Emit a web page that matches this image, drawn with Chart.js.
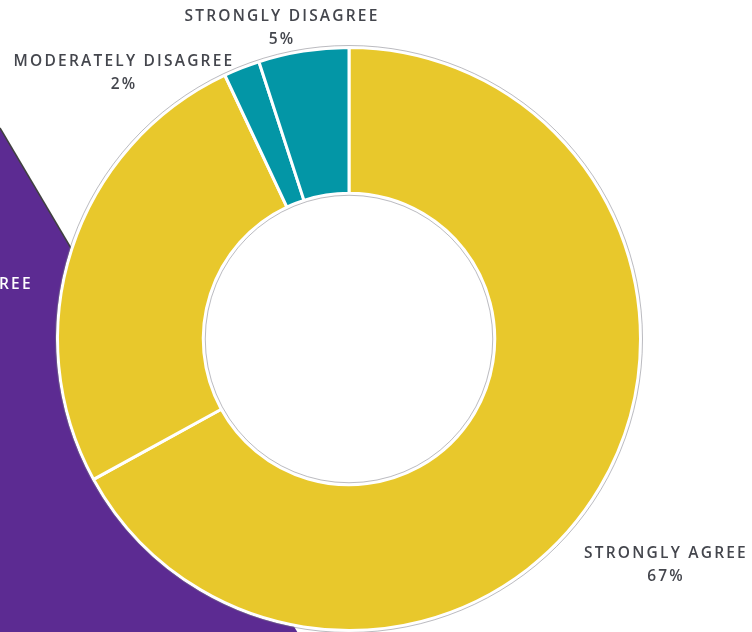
<!DOCTYPE html>
<html>
<head>
<meta charset="utf-8">
<script src="https://cdn.jsdelivr.net/npm/chart.js@4.4.0/dist/chart.umd.min.js"></script>
<style>
  html, body { margin: 0; padding: 0; background: #fff; overflow: hidden; }
  .wrap { width: 752px; height: 632px; position: relative; }
</style>
</head>
<body>
<div class="wrap"><canvas id="donut" width="752" height="632"></canvas></div>
<script>
  // data
  var categories = ["STRONGLY AGREE", "MODERATELY AGREE", "MODERATELY DISAGREE", "STRONGLY DISAGREE"];
  var shares = [67, 26, 2, 5];
  var sliceColors = ["#e8c82c", "#e8c82c", "#0396a6", "#0396a6"];

  // where each callout sits (x, y of the first line) and its text colour
  var calloutPos = [[666, 558], [-62, 289], [124, 66], [282, 21]];
  var calloutColor = ["#44464d", "#ffffff", "#44464d", "#44464d"];

  // purple backdrop behind the ring
  var backdrop = {
    id: "backdrop",
    beforeDraw: function (chart) {
      var ctx = chart.ctx;
      ctx.save();
      ctx.fillStyle = "#5c2b92";
      ctx.beginPath();
      ctx.moveTo(0, 128);
      ctx.lineTo(302, 640);
      ctx.lineTo(0, 640);
      ctx.closePath();
      ctx.fill();
      ctx.strokeStyle = "#404040";
      ctx.lineWidth = 1.5;
      ctx.beginPath();
      ctx.moveTo(0, 128);
      ctx.lineTo(150, 382);
      ctx.stroke();
      ctx.restore();
    }
  };

  // faint grey rim around the ring, then the callouts
  var callouts = {
    id: "callouts",
    afterDatasetsDraw: function (chart) {
      var ctx = chart.ctx;
      var arc = chart.getDatasetMeta(0).data[0];
      ctx.save();
      ctx.strokeStyle = "rgba(120,120,130,0.5)";
      ctx.lineWidth = 1;
      ctx.beginPath();
      ctx.arc(arc.x, arc.y, arc.outerRadius + 2, 0, Math.PI * 2);
      ctx.stroke();
      ctx.beginPath();
      ctx.arc(arc.x, arc.y, arc.innerRadius - 2, 0, Math.PI * 2);
      ctx.stroke();

      ctx.font = "600 15.5px 'Open Sans'";
      ctx.letterSpacing = "2.2px";
      ctx.textAlign = "center";
      ctx.textBaseline = "alphabetic";
      categories.forEach(function (name, i) {
        var p = calloutPos[i];
        ctx.fillStyle = calloutColor[i];
        ctx.fillText(name, p[0], p[1]);
        ctx.fillText(shares[i] + "%", p[0], p[1] + 23);
      });
      ctx.restore();
    }
  };

  new Chart(document.getElementById("donut"), {
    type: "doughnut",
    data: {
      labels: categories,
      datasets: [{
        data: shares,
        backgroundColor: sliceColors,
        borderColor: "#ffffff",
        borderWidth: 3
      }]
    },
    options: {
      responsive: false,
      animation: false,
      cutout: "50%",
      layout: { padding: { left: 54, right: 108, top: 46, bottom: -4 } },
      plugins: {
        legend: { display: false },
        tooltip: { enabled: false }
      }
    },
    plugins: [backdrop, callouts]
  });
</script>
</body>
</html>
